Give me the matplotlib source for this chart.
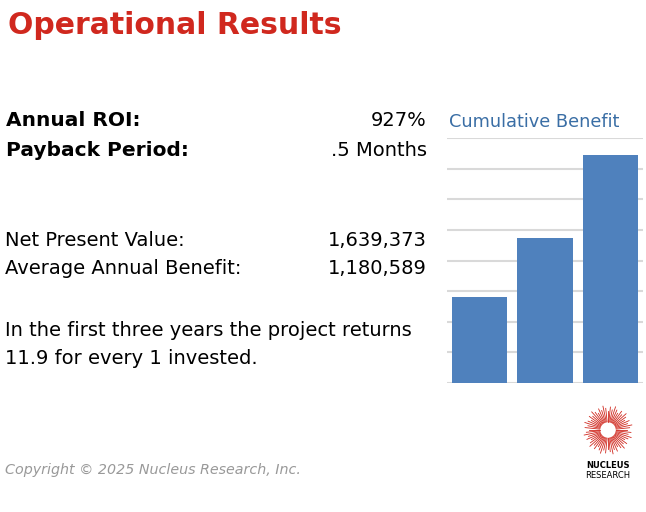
import numpy as np
import matplotlib.pyplot as plt

plt.rcParams['font.family'] = 'DejaVu Sans'

years = ['Year 1', 'Year 2', 'Year 3']
cumulative_benefit = [2.81, 4.74, 7.45]
gridlines = [0, 1, 2, 3, 4, 5, 6, 7, 8]

metrics_bold = [('Annual ROI:', '927%'), ('Payback Period:', '.5 Months')]
metrics_plain = [('Net Present Value:', '1,639,373'), ('Average Annual Benefit:', '1,180,589')]

fig = plt.figure(figsize=(6.46, 5.12), dpi=100)
W, H = 646, 512

def px(x, y):
    return x / W, 1 - y / H

red = '#d0281e'
fig.text(*px(8, 25), 'Operational Results', color=red, fontsize=21.5, va='center', weight='bold')

for i, (k, v) in enumerate(metrics_bold):
    y = 121 + i * 30
    fig.text(*px(6, y), k, fontsize=14.5, weight='bold', va='center', color='black')
    fig.text(*px(427, y), v, fontsize=14, va='center', ha='right', color='black')
for i, (k, v) in enumerate(metrics_plain):
    y = 241 + i * 28
    fig.text(*px(5, y), k, fontsize=14, va='center', color='black')
    fig.text(*px(427, y), v, fontsize=14, va='center', ha='right', color='black')

fig.text(*px(5, 345), 'In the first three years the project returns\n11.9 for every 1 invested.',
         fontsize=14, va='center', linespacing=1.6, color='black')
fig.text(*px(5, 470), 'Copyright © 2025 Nucleus Research, Inc.', fontsize=10.3,
         style='italic', color='#999999', va='center')
fig.text(*px(449, 122), 'Cumulative Benefit', fontsize=12.8, color='#3a6ea5', va='center')

# bar chart
l, t = px(447, 138)
r, b = px(643, 383)
ax = fig.add_axes([l, b, r - l, t - b])
x = np.arange(len(years))
ax.bar(x, cumulative_benefit, width=0.85, color='#4f81bd', zorder=2)
ax.set_xlim(-0.5, 2.5)
ax.set_ylim(0, 8)
for g in gridlines:
    ax.axhline(g, color='#d9d9d9', lw=1.5, zorder=1)
ax.set_xticks([])
ax.set_yticks([])
for s in ax.spines.values():
    s.set_visible(False)

# logo
cx, cy = px(608, 430)
lax = fig.add_axes([cx - 0.04, cy - 0.05, 0.08, 0.1])
lax.set_xlim(-1, 1)
lax.set_ylim(-1, 1)
lax.set_aspect('equal')
lax.axis('off')
angles = np.linspace(0, 2 * np.pi, 60, endpoint=False)
lengths = [0.75 + 0.2 * ((i * 7) % 5) / 4 for i in range(60)]
for a, L in zip(angles, lengths):
    lax.plot([0.32 * np.cos(a), L * np.cos(a)], [0.32 * np.sin(a), L * np.sin(a)],
             color=red, lw=0.6)
fig.text(*px(608, 466), 'NUCLEUS', fontsize=6, weight='bold', ha='center', va='center')
fig.text(*px(608, 475), 'RESEARCH', fontsize=6, ha='center', va='center')

fig.savefig('out.png', dpi=100)
